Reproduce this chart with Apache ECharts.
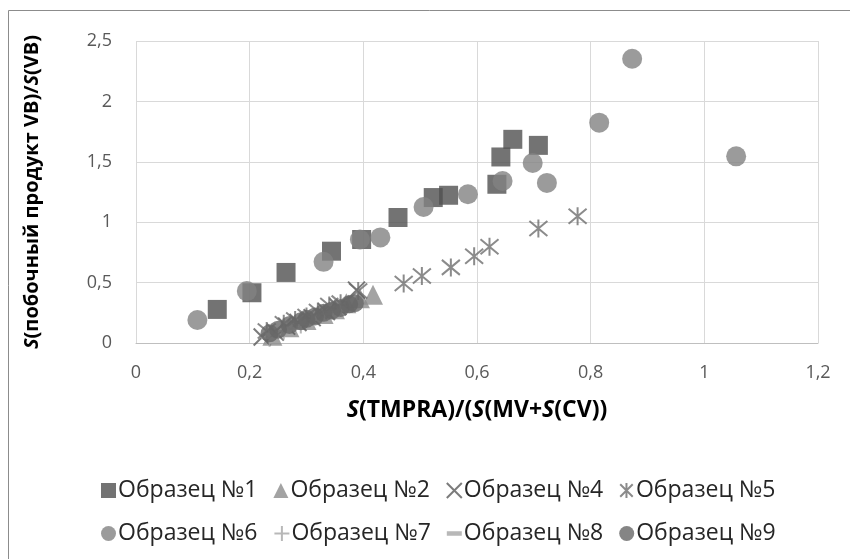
<!DOCTYPE html>
<html><head><meta charset="utf-8">
<script src="https://cdn.jsdelivr.net/npm/echarts@6/dist/echarts.min.js"></script>
<style>html,body{margin:0;padding:0;background:#fff}#c{width:850px;height:559px}</style>
</head><body><div id="c"></div>
<script>
// Образец №1 (squares)
const s1 = [[0.143,0.278],[0.204,0.416],[0.264,0.584],[0.344,0.76],[0.397,0.857],[0.461,1.039],[0.523,1.204],[0.55,1.223],[0.635,1.314],[0.642,1.54],[0.663,1.686],[0.708,1.636]];
// Образец №2 (triangles)
const s2 = [[0.24,0.06],[0.27,0.13],[0.30,0.19],[0.33,0.24],[0.35,0.28],[0.37,0.33],[0.394,0.37],[0.417,0.40]];
// Образец №4 (x)
const s4 = [[0.222,0.05],[0.245,0.09],[0.265,0.14],[0.285,0.17],[0.31,0.21],[0.335,0.26],[0.355,0.30],[0.388,0.438]];
// Образец №5 (asterisks)
const s5 = [[0.23,0.10],[0.26,0.16],[0.28,0.19],[0.30,0.22],[0.32,0.26],[0.34,0.31],[0.36,0.33],[0.391,0.43],[0.471,0.493],[0.503,0.554],[0.554,0.626],[0.595,0.719],[0.622,0.796],[0.708,0.948],[0.777,1.05]];
// Образец №6 (light circles)
const s6 = [[0.108,0.19],[0.195,0.43],[0.33,0.672],[0.394,0.857],[0.43,0.874],[0.506,1.126],[0.584,1.231],[0.645,1.341],[0.698,1.49],[0.723,1.325],[0.815,1.824],[0.873,2.353],[1.056,1.545]];
// Образец №7 (plus)
const s7 = [[0.235,0.04],[0.26,0.10],[0.29,0.15],[0.31,0.19],[0.34,0.24],[0.36,0.27]];
// Образец №8 (dash)
const s8 = [[0.24,0.07],[0.27,0.12],[0.30,0.17],[0.32,0.21],[0.345,0.25],[0.365,0.29]];
// Образец №9 (dark circles)
const s9 = [[0.235,0.08],[0.25,0.11],[0.27,0.15],[0.29,0.18],[0.30,0.20],[0.315,0.22],[0.33,0.25],[0.345,0.27],[0.36,0.29],[0.375,0.32],[0.385,0.33]];

const names = ['Образец №1','Образец №2','Образец №4','Образец №5','Образец №6','Образец №7','Образец №8','Образец №9'];
const xTicks = {min:0, max:1.2, interval:0.2};
const yTicks = {min:0, max:2.5, interval:0.5};

const FONT = 'Open Sans';
const X_PATH = 'path://M0,0L10,10M10,0L0,10';
const AST_PATH = 'path://M0,0L10,10M10,0L0,10M5,-1L5,11';
const PLUS_PATH = 'path://M5,0L5,10M0,5L10,5';
const DASH_PATH = 'path://M0,0L10,0L10,3L0,3Z';

function fmt(v){ return String(Math.round(v*10)/10).replace('.',','); }

const chart = echarts.init(document.getElementById('c'));
chart.setOption({
  animation:false,
  backgroundColor:'#fff',
  textStyle:{fontFamily:FONT},
  graphic:[{type:'rect',shape:{x:8.5,y:10.5,width:900,height:700},style:{fill:'none',stroke:'#8c8c8c',lineWidth:1},silent:true}],
  grid:{left:136,right:32,top:41,bottom:216},
  xAxis:{type:'value',min:xTicks.min,max:xTicks.max,interval:xTicks.interval,
    axisLine:{show:true,lineStyle:{color:'#bfbfbf',width:1}},axisTick:{show:false},
    splitLine:{show:true,lineStyle:{color:'#d9d9d9',width:1}},
    axisLabel:{formatter:fmt,color:'#595959',fontSize:18,margin:21,fontFamily:FONT},
    name:'{i|S}(TMPRA)/({i|S}(MV+{i|S}(CV))',nameLocation:'middle',nameGap:56,
    nameTextStyle:{color:'#000',fontSize:23,fontWeight:'bold',fontFamily:FONT,
      rich:{i:{fontStyle:'italic',fontWeight:'bold',fontSize:23,color:'#000',fontFamily:FONT}}}},
  yAxis:{type:'value',min:yTicks.min,max:yTicks.max,interval:yTicks.interval,
    axisLine:{show:false},axisTick:{show:false},
    splitLine:{show:true,lineStyle:{color:'#d9d9d9',width:1}},
    axisLabel:{formatter:fmt,color:'#595959',fontSize:18,margin:24,fontFamily:FONT},
    name:'{i|S}(побочный продукт VB)/{i|S}(VB)',nameLocation:'middle',nameGap:94,nameRotate:90,
    nameTextStyle:{color:'#000',fontSize:20,fontWeight:'bold',fontFamily:FONT,
      rich:{i:{fontStyle:'italic',fontWeight:'bold',fontSize:20,color:'#000',fontFamily:FONT}}}},
  legend:[
    {data:names.slice(0,4),top:474,left:96,itemGap:16,itemWidth:15,itemHeight:15,
      textStyle:{fontSize:23,color:'#262626',fontFamily:FONT,padding:[0,0,0,-3]}},
    {data:names.slice(4),top:517,left:96,itemGap:16,itemWidth:15,itemHeight:15,
      textStyle:{fontSize:23,color:'#262626',fontFamily:FONT,padding:[0,0,0,-3]}}
  ],
  series:[
    {name:names[0],type:'scatter',data:s1,symbol:'rect',symbolSize:19,itemStyle:{color:'#505050'}},
    {name:names[1],type:'scatter',data:s2,symbol:'triangle',symbolSize:20,itemStyle:{color:'#8c8c8c'}},
    {name:names[2],type:'scatter',data:s4,symbol:X_PATH,symbolSize:17,itemStyle:{color:'rgba(0,0,0,0)',borderColor:'#5a5a5a',borderWidth:2}},
    {name:names[3],type:'scatter',data:s5,symbol:AST_PATH,symbolSize:18,itemStyle:{color:'rgba(0,0,0,0)',borderColor:'#6e6e6e',borderWidth:2}},
    {name:names[4],type:'scatter',data:s6,symbol:'circle',symbolSize:20,itemStyle:{color:'#828282'}},
    {name:names[5],type:'scatter',data:s7,symbol:PLUS_PATH,symbolSize:17,itemStyle:{color:'rgba(0,0,0,0)',borderColor:'#a6a6a6',borderWidth:2}},
    {name:names[6],type:'scatter',data:s8,symbol:DASH_PATH,symbolSize:[14,4],itemStyle:{color:'#a6a6a6'}},
    {name:names[7],type:'scatter',data:s9,symbol:'circle',symbolSize:18,itemStyle:{color:'#666666'}}
  ]
});
</script></body></html>
